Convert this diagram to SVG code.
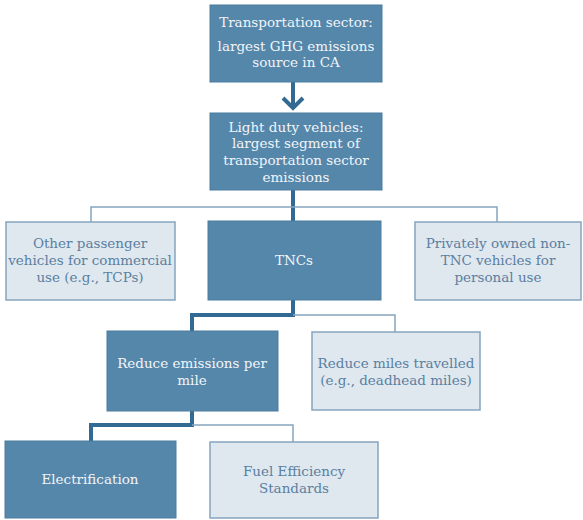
<svg xmlns="http://www.w3.org/2000/svg" width="583" height="520" viewBox="0 0 583 520">
<style>
.dark{fill:#5587ab;stroke:#4a7ca0;stroke-width:1}
.light{fill:#dfe7ef;stroke:#86a5bf;stroke-width:1.5}
.tl{fill:#f2f5f8}
.td{fill:#5a7f9f}
.thick{fill:none;stroke:#336a93;stroke-width:4}
.thin{fill:none;stroke:#86a5bf;stroke-width:1.5}
</style>
<rect width="583" height="520" fill="#ffffff"/>
<g id="connectors">
<path class="thick" d="M293,82 V108"/>
<path class="thick" d="M283,98 L293,108 L303,98" stroke-linejoin="miter"/>
<path class="thick" d="M293,190 V221"/>
<path class="thin" d="M91,222 V207 H497 V222"/>
<path class="thick" d="M293,300 V315 H192 V331"/>
<path class="thin" d="M293,315 H395 V332"/>
<path class="thick" d="M192,411 V425 H91 V441"/>
<path class="thin" d="M192,425 H293 V442"/>
</g>
<g font-family="DejaVu Serif, serif" font-size="13.5" text-anchor="middle">
<g id="n1">
<rect class="dark" x="210" y="5" width="172" height="77"/>
<text class="tl" x="296" y="27">Transportation sector:</text>
<text class="tl" x="296" y="51">largest GHG emissions</text>
<text class="tl" x="296" y="67">source in CA</text>
</g>
<g id="n2">
<rect class="dark" x="210" y="113" width="172" height="77"/>
<text class="tl" x="296" y="132">Light duty vehicles:</text>
<text class="tl" x="296" y="148">largest segment of</text>
<text class="tl" x="296" y="165">transportation sector</text>
<text class="tl" x="296" y="182">emissions</text>
</g>
<g id="n3">
<rect class="light" x="6" y="222" width="169" height="78"/>
<text class="td" x="90" y="248">Other passenger</text>
<text class="td" x="90" y="265">vehicles for commercial</text>
<text class="td" x="90" y="282">use (e.g., TCPs)</text>
</g>
<g id="n4">
<rect class="dark" x="208" y="221" width="173" height="79"/>
<text class="tl" x="294" y="265">TNCs</text>
</g>
<g id="n5">
<rect class="light" x="415" y="222" width="166" height="78"/>
<text class="td" x="498" y="248">Privately owned non-</text>
<text class="td" x="498" y="265">TNC vehicles for</text>
<text class="td" x="498" y="282">personal use</text>
</g>
<g id="n6">
<rect class="dark" x="107" y="331" width="171" height="80"/>
<text class="tl" x="192" y="368">Reduce emissions per</text>
<text class="tl" x="192" y="385">mile</text>
</g>
<g id="n7">
<rect class="light" x="312" y="332" width="168" height="78"/>
<text class="td" x="396" y="368">Reduce miles travelled</text>
<text class="td" x="396" y="385">(e.g., deadhead miles)</text>
</g>
<g id="n8">
<rect class="dark" x="5" y="441" width="171" height="77"/>
<text class="tl" x="90" y="484">Electrification</text>
</g>
<g id="n9">
<rect class="light" x="210" y="442" width="168" height="76"/>
<text class="td" x="294" y="476">Fuel Efficiency</text>
<text class="td" x="294" y="493">Standards</text>
</g>
</g>
</svg>
